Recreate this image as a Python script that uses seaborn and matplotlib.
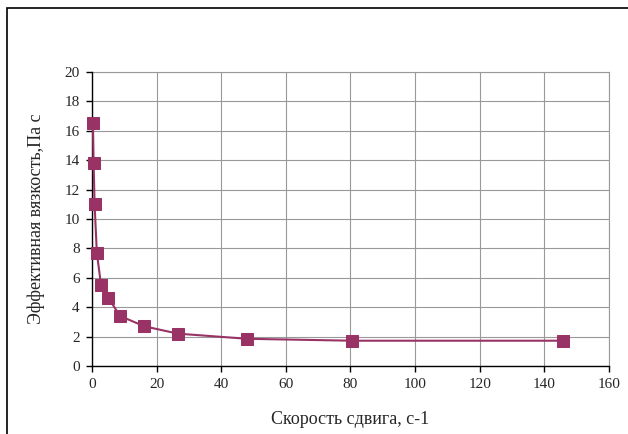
import seaborn as sns
import matplotlib.pyplot as plt
import pandas as pd
from matplotlib.patches import Rectangle

# данные: скорость сдвига и эффективная вязкость
shear_rate = [0.3, 0.5, 0.8, 1.5, 2.8, 5.0, 8.7, 16.2, 26.6, 48.1, 80.5, 145.8]
viscosity = [16.5, 13.8, 11.0, 7.7, 5.5, 4.65, 3.4, 2.7, 2.2, 1.85, 1.72, 1.72]

df = pd.DataFrame({"x": shear_rate, "y": viscosity})

sns.set_style("white")
plt.rcParams['font.family'] = ['Liberation Serif', 'DejaVu Serif']

fig = plt.figure(figsize=(6.28, 4.34), dpi=100)
ax = fig.add_axes([0.1465, 0.1567, 0.8232, 0.6773])

sns.lineplot(data=df, x="x", y="y", ax=ax, sort=False, color="#993366",
             marker="s", markersize=8, markeredgecolor="#993366", linewidth=1.5)
for ln in ax.lines:
    ln.set_clip_on(False)
    ln.set_zorder(5)

ax.set_xlim(0, 160)
ax.set_ylim(0, 20)
ax.set_xticks(range(0, 161, 20))
ax.set_yticks(range(0, 21, 2))
ax.grid(True, color="#999999", linewidth=0.8)
ax.set_axisbelow(True)
for s in ["top", "right"]:
    ax.spines[s].set_color("#999999")
    ax.spines[s].set_linewidth(0.8)
for s in ["left", "bottom"]:
    ax.spines[s].set_color("black")
    ax.spines[s].set_linewidth(1.0)
    ax.spines[s].set_zorder(3)
ax.tick_params(axis="both", direction="out", length=4, width=1, color="black",
               labelsize=11, pad=5, left=True, bottom=True)

ax.set_xlabel("Скорость сдвига, с-1", fontsize=13, labelpad=14)
ax.set_ylabel("Эффективная вязкость,Па с", fontsize=13, labelpad=14)

# рамка вокруг диаграммы (обрезана справа и снизу)
fig.patches.append(Rectangle((7 / 628, -0.05), 1.1, 1 - 8 / 434 + 0.05,
                             transform=fig.transFigure, fill=False,
                             edgecolor="black", linewidth=1.2))

fig.savefig("out.png", dpi=100)
